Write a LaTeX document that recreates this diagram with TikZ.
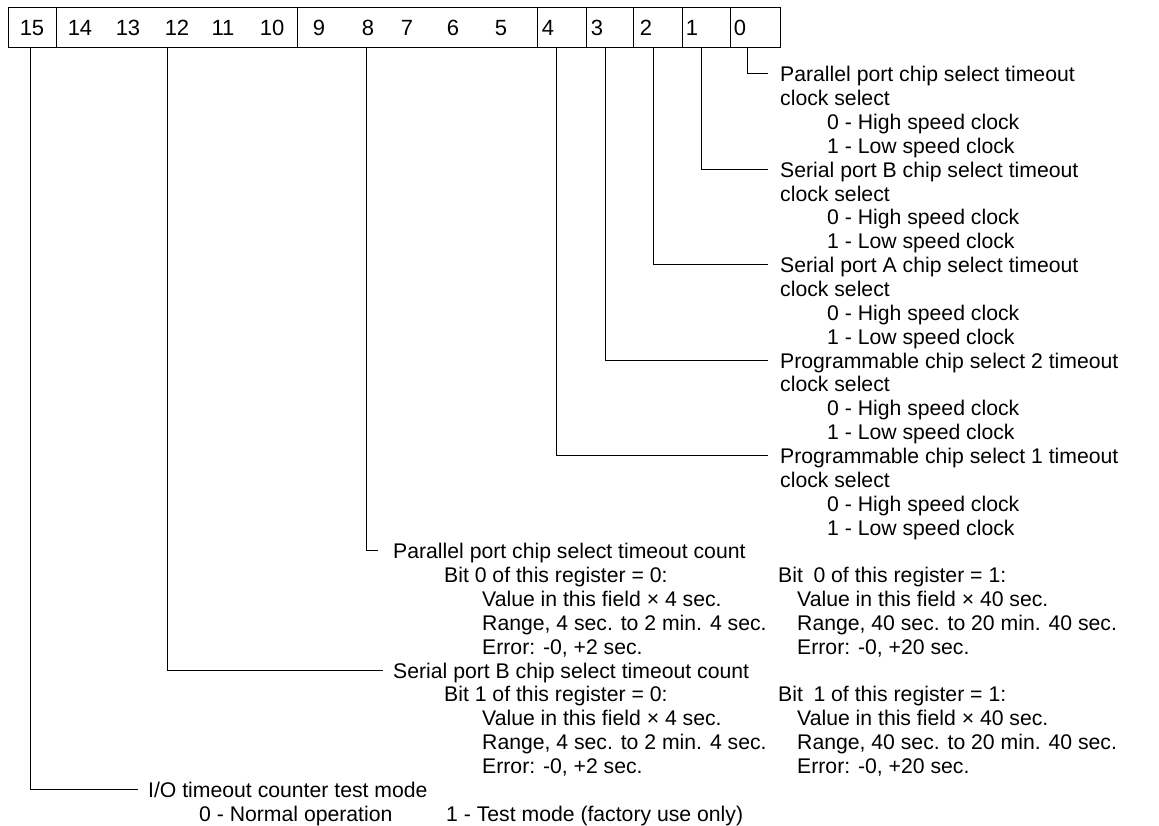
\documentclass[tikz,border=0pt]{standalone}
\usepackage{fontspec}
\setmainfont{Liberation Sans}
\begin{document}
\begin{tikzpicture}[x=1pt,y=-1pt,
  field/.style={draw, line width=1pt, minimum height=40pt, inner sep=0pt},
  digit/.style={font=\fontsize{22}{22}\selectfont, inner sep=0pt},
  txt/.style={anchor=base west, inner sep=0pt, font=\fontsize{21.2}{24}\selectfont},
  conn/.style={line width=1pt}]
\useasboundingbox (0,0) rectangle (1159,826);
% register fields
\node[field, minimum width=48pt]  (f15) at (32,28) {};
\node[field, minimum width=241pt] (f14) at (176.5,28) {};
\node[field, minimum width=240pt] (f9)  at (417,28) {};
\node[field, minimum width=49pt]  (f4)  at (561.5,28) {};
\node[field, minimum width=47pt]  (f3)  at (609.5,28) {};
\node[field, minimum width=49pt]  (f2)  at (657.5,28) {};
\node[field, minimum width=48pt]  (f1)  at (706,28) {};
\node[field, minimum width=50pt]  (f0)  at (755,28) {};
% digits
\node[digit] (d15) at (32,28) {15};
\node[digit] (d14) at (80,28) {14};
\node[digit] (d13) at (128,28) {13};
\node[digit] (d12) at (177,28) {12};
\node[digit] (d11) at (223,28) {11};
\node[digit] (d10) at (272,28) {10};
\node[digit] (d9) at (319,28) {9};
\node[digit] (d8) at (368,28) {8};
\node[digit] (d7) at (407,28) {7};
\node[digit] (d6) at (453,28) {6};
\node[digit] (d5) at (501,28) {5};
\node[digit] (d4) at (548,28) {4};
\node[digit] (d3) at (597,28) {3};
\node[digit] (d2) at (646,28) {2};
\node[digit] (d1) at (692,28) {1};
\node[digit] (d0) at (740,28) {0};
% connector start points
\coordinate (p15) at (30,48);
\coordinate (p12) at (167,48);
\coordinate (p8) at (366,48);
\coordinate (p4) at (556,48);
\coordinate (p3) at (605,48);
\coordinate (p2) at (653,48);
\coordinate (p1) at (701,48);
\coordinate (p0) at (747,48);
% bit 0
\node[txt] (t0) at (780,82.0) {Parallel port chip select timeout};
\node[txt] (t0b) at (780,105.8) {clock select};
\node[txt] (t0c) at (827,129.7) {0 - High speed clock};
\node[txt] (t0d) at (827,153.5) {1 - Low speed clock};
% bit 1
\node[txt] (t1) at (780,177.4) {Serial port B chip select timeout};
\node[txt] (t1b) at (780,201.2) {clock select};
\node[txt] (t1c) at (827,225.0) {0 - High speed clock};
\node[txt] (t1d) at (827,248.9) {1 - Low speed clock};
% bit 2
\node[txt] (t2) at (780,272.7) {Serial port A chip select timeout};
\node[txt] (t2b) at (780,296.6) {clock select};
\node[txt] (t2c) at (827,320.4) {0 - High speed clock};
\node[txt] (t2d) at (827,344.2) {1 - Low speed clock};
% bit 3
\node[txt] (t3) at (780,368.1) {Programmable chip select 2 timeout};
\node[txt] (t3b) at (780,391.9) {clock select};
\node[txt] (t3c) at (827,415.8) {0 - High speed clock};
\node[txt] (t3d) at (827,439.6) {1 - Low speed clock};
% bit 4
\node[txt] (t4) at (780,463.4) {Programmable chip select 1 timeout};
\node[txt] (t4b) at (780,487.3) {clock select};
\node[txt] (t4c) at (827,511.1) {0 - High speed clock};
\node[txt] (t4d) at (827,535.0) {1 - Low speed clock};
% bits 9-5
\node[txt] (t8) at (393,558.8) {Parallel port chip select timeout count};
\node[txt] (t8b) at (444,582.6) {Bit 0 of this register = 0:};
\node[txt] (t8c) at (482,606.5) {Value in this field × 4 sec.};
\node[txt] (t8d) at (482,630.3) {Range, 4 sec. to 2 min. 4 sec.};
\node[txt] (t8e) at (482,654.2) {Error: -0, +2 sec.};
\node[txt] (t8f) at (778,582.6) {Bit\hspace{0.5em}0 of this register = 1:};
\node[txt] (t8g) at (797,606.5) {Value in this field × 40 sec.};
\node[txt] (t8h) at (797,630.3) {Range, 40 sec. to 20 min. 40 sec.};
\node[txt] (t8i) at (797,654.2) {Error: -0, +20 sec.};
% bits 14-10
\node[txt] (t12) at (393,678.0) {Serial port B chip select timeout count};
\node[txt] (t12b) at (444,701.8) {Bit 1 of this register = 0:};
\node[txt] (t12c) at (482,725.7) {Value in this field × 4 sec.};
\node[txt] (t12d) at (482,749.5) {Range, 4 sec. to 2 min. 4 sec.};
\node[txt] (t12e) at (482,773.4) {Error: -0, +2 sec.};
\node[txt] (t12f) at (778,701.8) {Bit\hspace{0.5em}1 of this register = 1:};
\node[txt] (t12g) at (797,725.7) {Value in this field × 40 sec.};
\node[txt] (t12h) at (797,749.5) {Range, 40 sec. to 20 min. 40 sec.};
\node[txt] (t12i) at (797,773.4) {Error: -0, +20 sec.};
% bit 15
\node[txt] (t15) at (148,797.2) {I/O timeout counter test mode};
\node[txt] (t15b) at (199,821.0) {0 - Normal operation};
\node[txt] (t15c) at (446,821.0) {1 - Test mode (factory use only)};
% connectors
\draw[conn] (p0) |- ([shift={(-12,-8)}]t0.base west);
\draw[conn] (p1) |- ([shift={(-12,-8)}]t1.base west);
\draw[conn] (p2) |- ([shift={(-12,-8)}]t2.base west);
\draw[conn] (p3) |- ([shift={(-12,-8)}]t3.base west);
\draw[conn] (p4) |- ([shift={(-12,-8)}]t4.base west);
\draw[conn] (p8) |- ([shift={(-15,-8)}]t8.base west);
\draw[conn] (p12) |- ([shift={(-10,-8)}]t12.base west);
\draw[conn] (p15) |- ([shift={(-10,-8)}]t15.base west);
\end{tikzpicture}
\end{document}
